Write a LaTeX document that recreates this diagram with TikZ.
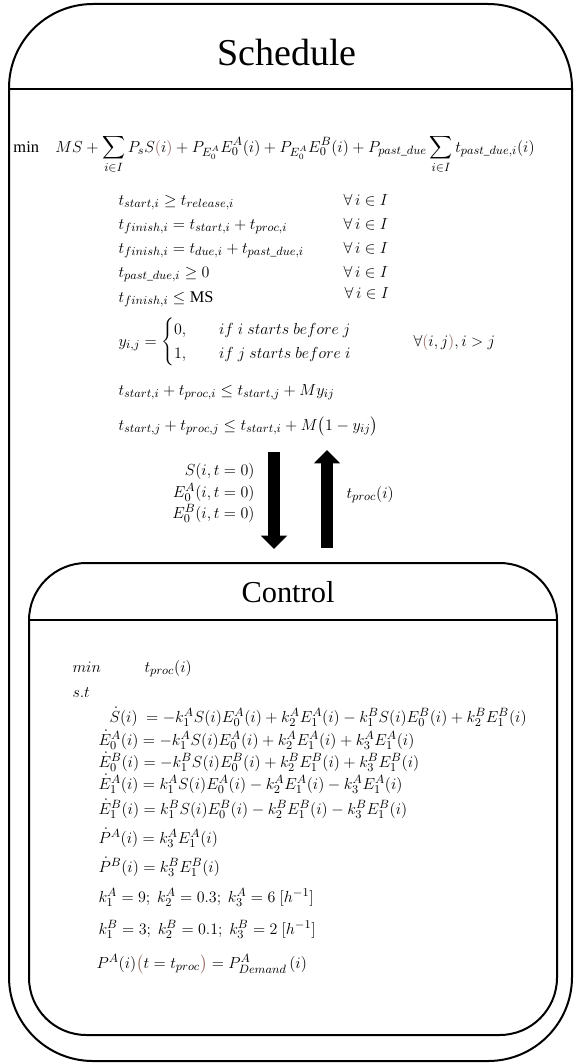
\documentclass[tikz,border=0pt]{standalone}
\usepackage{amsmath}
\usepackage{fontspec}
\setmainfont{Liberation Serif}
\usetikzlibrary{arrows.meta}

\definecolor{parbrown}{RGB}{140,95,85}
\newcommand{\bpar}[1]{{\color{parbrown}#1}}

\tikzset{every picture/.style={line width=0.75pt}}
\tikzset{
  frame/.style={line width=1.5pt},
  eq/.style={inner sep=0.75pt, font=\fontsize{12.3}{15}\selectfont},
  title/.style={inner sep=0.75pt, font=\fontsize{28.5}{34}\selectfont},
  subtitle/.style={inner sep=0.75pt, font=\fontsize{22.8}{27}\selectfont},
  fat/.style={line width=9.5pt, -{Triangle[width=19pt,length=10pt]}},
}

\begin{document}
\begin{tikzpicture}[x=0.75pt,y=0.75pt,yscale=-1,xscale=1]
		\path[use as bounding box] (0,0) rectangle (574,1063);
		
		%Rounded Rect: schedule block
		\draw [frame, rounded corners=63pt] (9,4) rectangle (572,1061);
		\draw [frame] (9,89) -- (572,89);
		%Rounded Rect: control block
		\draw [frame, rounded corners=43pt] (29,563) rectangle (557,1035);
		\draw [frame] (29,620) -- (557,620);
		
		%Block arrows between the two levels
		\coordinate (dnS) at (274,452);
		\coordinate (dnE) at (274,549);
		\coordinate (upS) at (327,548);
		\coordinate (upE) at (327,450);
		\draw [fat] (dnS) -- (dnE);
		\draw [fat] (upS) -- (upE);
		
		\draw (287,65) node [title, anchor=base] (sched) {Schedule};
		\draw (288,602) node [subtitle, anchor=base] (ctrl) {Control};
		
		%scheduling problem
		\draw (12,152) node [eq, anchor=base west] (obj) {$\mathrm{min}\quad MS+\displaystyle\sum_{i\in I}P_sS\bpar{(}i\bpar{)}+P_{E_0^A}E_0^A(i)+P_{E_0^A}E_0^B(i)+P_{past\_due}\sum_{i\in I}t_{past\_due,i}(i)$};
		\draw (117,205) node [eq, anchor=base west] (c1) {$t_{start,i}\geq t_{release,i}$};
		\draw (117,229) node [eq, anchor=base west] (c2) {$t_{finish,i}=t_{start,i}+t_{proc,i}$};
		\draw (117,253) node [eq, anchor=base west] (c3) {$t_{finish,i}=t_{due,i}+t_{past\_due,i}$};
		\draw (117,277) node [eq, anchor=base west] (c4) {$t_{past\_due,i}\geq 0$};
		\draw (117,302) node [eq, anchor=base west] (c5) {$t_{finish,i}\leq \mathrm{MS}$};
		\draw (342,205) node [eq, anchor=base west] (a1) {$\forall\,i\in I$};
		\draw (342,229) node [eq, anchor=base west] (a2) {$\forall\,i\in I$};
		\draw (342,253) node [eq, anchor=base west] (a3) {$\forall\,i\in I$};
		\draw (342,277) node [eq, anchor=base west] (a4) {$\forall\,i\in I$};
		\draw (343,298) node [eq, anchor=base west] (a5) {$\forall\,i\in I$};
		\draw (117,342) node [eq, anchor=west] (yij) {$y_{i,j}=\begin{cases}0, & \quad if\ i\ starts\ before\ j\\ 1, & \quad if\ j\ starts\ before\ i\end{cases}$};
		\draw (412,342) node [eq, anchor=west] (yall) {$\forall\bpar{(}i,j\bpar{)},i>j$};
		\draw (117,395) node [eq, anchor=base west] (m1) {$t_{start,i}+t_{proc,i}\leq t_{start,j}+My_{ij}$};
		\draw (117,430) node [eq, anchor=base west] (m2) {$t_{start,j}+t_{proc,j}\leq t_{start,i}+M\bigl(1-y_{ij}\bigr)$};
		
		%exchanged quantities
		\draw (256,475) node [eq, anchor=base east] (s0) {$S(i,t=0)$};
		\draw (256,497) node [eq, anchor=base east] (ea0) {$E_0^A(i,t=0)$};
		\draw (256,518) node [eq, anchor=base east] (eb0) {$E_0^B(i,t=0)$};
		\draw (345,498) node [eq, anchor=base west] (tp) {$t_{proc}(i)$};
		
		%control problem
		\draw (71,672) node [eq, anchor=base west] (cmin) {$min$};
		\draw (143,672) node [eq, anchor=base west] (cobj) {$t_{proc}(i)$};
		\draw (71,697) node [eq, anchor=base west] (st) {$s.t$};
		\draw (108,722) node [eq, anchor=base west] (ode1) {$\dot S(i)\ =-k_1^AS(i)E_0^A(i)+k_2^AE_1^A(i)-k_1^BS(i)E_0^B(i)+k_2^BE_1^B(i)$};
		\draw (97,745) node [eq, anchor=base west] (ode2) {$\dot E_0^A(i)=-k_1^AS(i)E_0^A(i)+k_2^AE_1^A(i)+k_3^AE_1^A(i)$};
		\draw (97,767) node [eq, anchor=base west] (ode3) {$\dot E_0^B(i)=-k_1^BS(i)E_0^B(i)+k_2^BE_1^B(i)+k_3^BE_1^B(i)$};
		\draw (97,789) node [eq, anchor=base west] (ode4) {$\dot E_1^A(i)=k_1^AS(i)E_0^A(i)-k_2^AE_1^A(i)-k_3^AE_1^A(i)$};
		\draw (97,814) node [eq, anchor=base west] (ode5) {$\dot E_1^B(i)=k_1^BS(i)E_0^B(i)-k_2^BE_1^B(i)-k_3^BE_1^B(i)$};
		\draw (97,843) node [eq, anchor=base west] (ode6) {$\dot P^A(i)=k_3^AE_1^A(i)$};
		\draw (97,872) node [eq, anchor=base west] (ode7) {$\dot P^B(i)=k_3^BE_1^B(i)$};
		\draw (97,902) node [eq, anchor=base west] (kA) {$k_1^A=9;\ k_2^A=0.3;\ k_3^A=6\ [h^{-1}]$};
		\draw (97,934) node [eq, anchor=base west] (kB) {$k_1^B=3;\ k_2^B=0.1;\ k_3^B=2\ [h^{-1}]$};
		\draw (95,968) node [eq, anchor=base west] (dem) {$P^A(i)\bpar{\bigl(}t=t_{proc}\bpar{\bigr)}=P_{Demand}^A\,(i)$};
		
	\end{tikzpicture}
\end{document}
